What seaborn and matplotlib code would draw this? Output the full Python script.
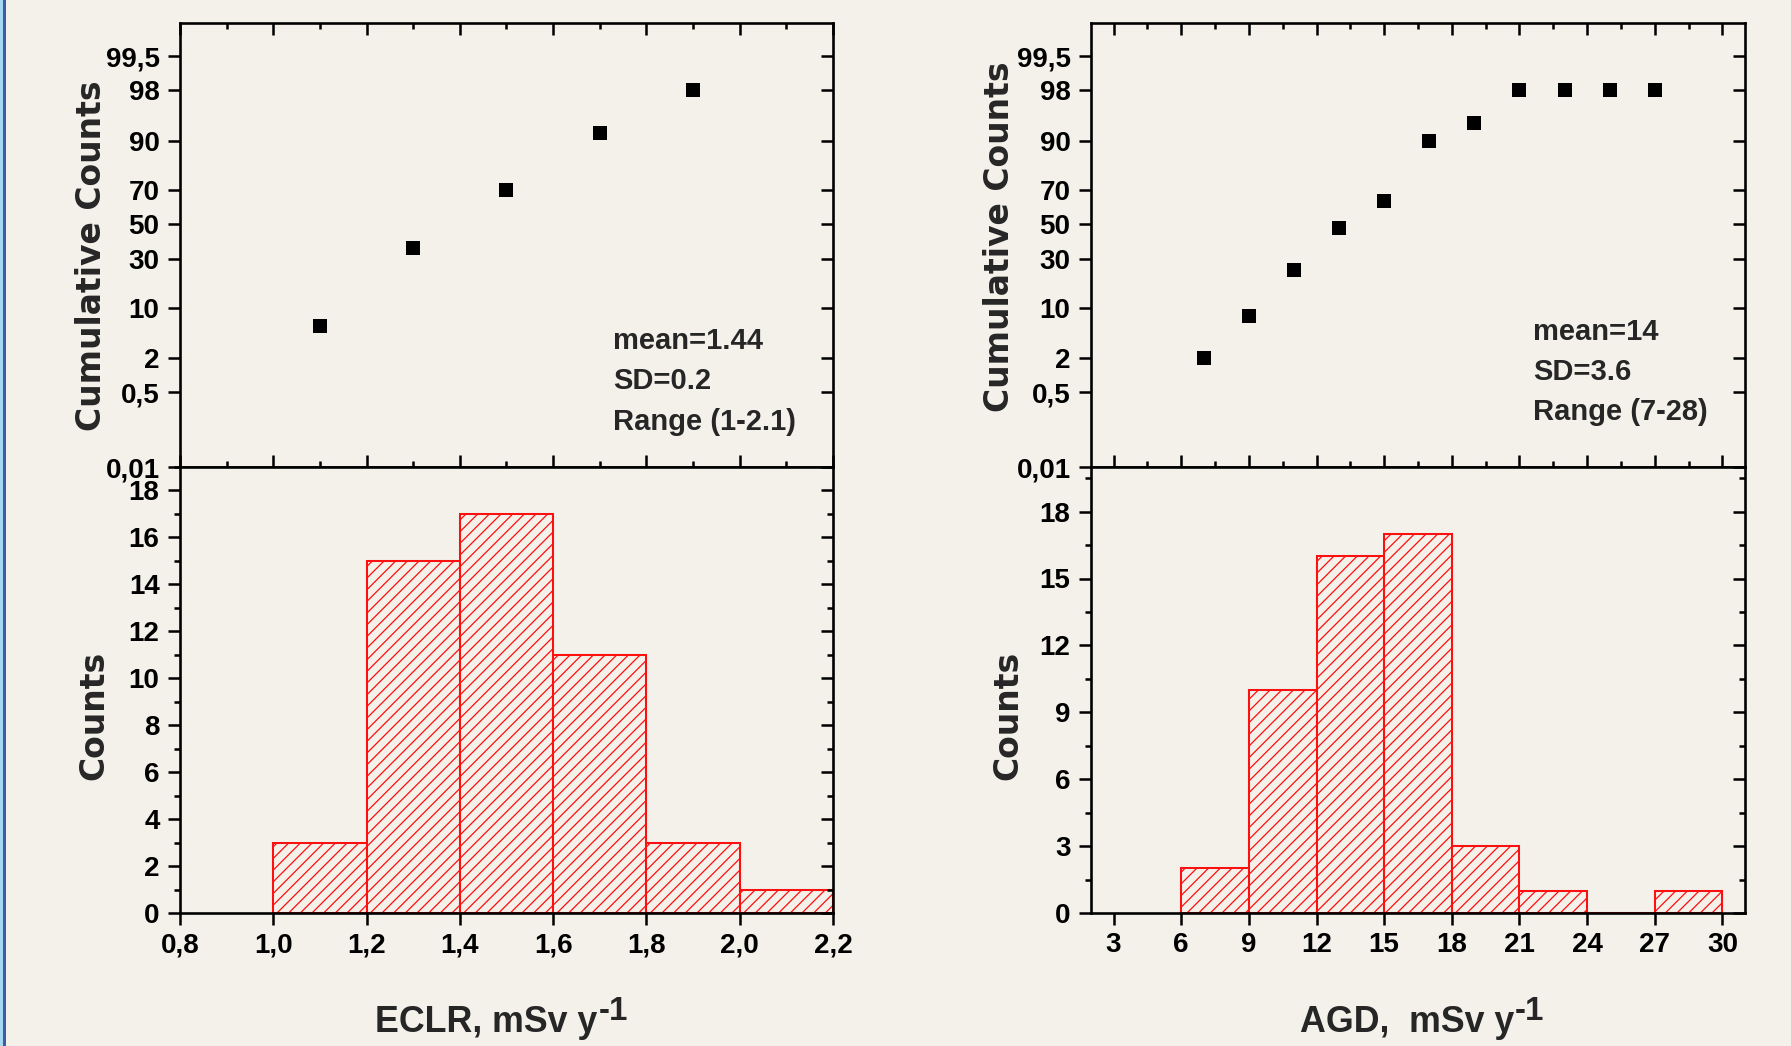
import numpy as np
import matplotlib
matplotlib.use("Agg")
import matplotlib.pyplot as plt
import seaborn as sns
import pandas as pd
from statistics import NormalDist
from matplotlib.ticker import (FixedLocator, MultipleLocator, FuncFormatter,
                               NullLocator, NullFormatter, FixedFormatter)
from matplotlib.patches import Rectangle

# ---------------- data ----------------
eclr_edges = [1.0, 1.2, 1.4, 1.6, 1.8, 2.0, 2.2]
eclr_counts = [3, 15, 17, 11, 3, 1]
eclr_cum_x = [1.1, 1.3, 1.5, 1.7, 1.9]
eclr_cum_pct = [6, 36, 70, 92, 98]
eclr_stats = ["mean=1.44", "SD=0.2", "Range (1-2.1)"]

agd_edges = [6, 9, 12, 15, 18, 21, 24, 27, 30]
agd_counts = [2, 10, 16, 17, 3, 1, 0, 1]
agd_cum_x = [7, 9, 11, 13, 15, 17, 19, 21, 23, 25, 27]
agd_cum_pct = [2, 8, 24, 48, 64, 90, 94, 98, 98, 98, 98]
agd_stats = ["mean=14", "SD=3.6", "Range (7-28)"]

prob_ticks = [0.01, 0.5, 2, 10, 30, 50, 70, 90, 98, 99.5]
prob_labels = ["0,01", "0,5", "2", "10", "30", "50", "70", "90", "98", "99,5"]

# ---------------- style ----------------
BG = "#F3F1EA"
RED = "#FF1010"
DPI = 140
W_PX, H_PX = 1791, 1046

sns.set_style("ticks")
plt.rcParams.update({
    "font.family": ["Liberation Sans", "DejaVu Sans"],
    "font.weight": "bold",
    "axes.labelweight": "bold",
    "hatch.linewidth": 0.65,
    "hatch.color": RED,
    "axes.facecolor": BG,
    "figure.facecolor": BG,
    "savefig.facecolor": BG,
    "axes.edgecolor": "black",
    "axes.linewidth": 1.35,
    "xtick.color": "black",
    "ytick.color": "black",
    "axes.grid": False,
})

_nd = NormalDist()
_ppf = np.vectorize(_nd.inv_cdf, otypes=[float])
_cdf = np.vectorize(_nd.cdf, otypes=[float])


def prob_fwd(p):
    p = np.clip(np.asarray(p, dtype=float) / 100.0, 1e-12, 1 - 1e-12)
    return _ppf(p)


def prob_inv(z):
    return _cdf(np.asarray(z, dtype=float)) * 100.0


PROB_TOP = 99.898
TICK_FS = 14.3
MAJ_LEN, MIN_LEN, TW = 6.0, 3.0, 1.3

fig = plt.figure(figsize=(W_PX / DPI, H_PX / DPI), dpi=DPI)

# left decorative border
fig.patches.append(Rectangle((0, 0), 3 / W_PX, 1, transform=fig.transFigure,
                             facecolor="#A6D8F2", edgecolor="none", zorder=0))
fig.patches.append(Rectangle((3 / W_PX, 0), 3 / W_PX, 1, transform=fig.transFigure,
                             facecolor="#3A5DA5", edgecolor="none", zorder=0))

TOP_Y0, MID_Y, BOT_Y1 = 23, 467, 913


def fy(px):
    return 1 - px / H_PX


def make_panel(x0, x1, edges, counts, cum_x, cum_pct, xlim, xmaj, xmin, xfmt,
               ymax, ymaj, ymin, xlabel, xlabel_x, stats, stats_x, stats_y,
               lab_top, lab_bot):
    left = x0 / W_PX
    width = (x1 - x0) / W_PX
    ax_t = fig.add_axes([left, fy(MID_Y), width, (MID_Y - TOP_Y0) / H_PX])
    ax_b = fig.add_axes([left, fy(BOT_Y1), width, (BOT_Y1 - MID_Y) / H_PX])

    # ---- histogram (bottom) ----
    centers = [(a + b) / 2 for a, b in zip(edges[:-1], edges[1:])]
    df = pd.DataFrame({"x": centers, "w": counts})
    sns.histplot(data=df, x="x", weights="w", bins=edges, ax=ax_b,
                 stat="count", element="bars", fill=True, color=RED)
    for p in ax_b.patches:
        p.set_alpha(None)
        p.set_facecolor(BG)
        p.set_edgecolor(RED)
        p.set_hatch("////")
        p.set_linewidth(1.05)
    ax_b.set_xlim(*xlim)
    ax_b.set_ylim(0, ymax)
    ax_b.xaxis.set_major_locator(MultipleLocator(xmaj))
    ax_b.xaxis.set_minor_locator(NullLocator())
    ax_b.xaxis.set_major_formatter(FuncFormatter(xfmt))
    ax_b.yaxis.set_major_locator(MultipleLocator(ymaj))
    ax_b.yaxis.set_minor_locator(MultipleLocator(ymin))
    ax_b.tick_params(axis="x", which="both", direction="out", bottom=True, top=False,
                     length=MAJ_LEN, width=TW, labelsize=TICK_FS, pad=4)
    ax_b.tick_params(axis="y", which="major", direction="out", left=True, right=False,
                     length=MAJ_LEN, width=TW, labelsize=TICK_FS, pad=4.5)
    ax_b.tick_params(axis="y", which="minor", direction="out", left=True, right=False,
                     length=MIN_LEN, width=TW)
    for s in ax_b.spines.values():
        s.set_visible(True)
        s.set_linewidth(1.35)
    tw_b = ax_b.twinx()
    tw_b.set_ylim(0, ymax)
    tw_b.yaxis.set_major_locator(MultipleLocator(ymaj))
    tw_b.yaxis.set_minor_locator(MultipleLocator(ymin))
    tw_b.tick_params(axis="y", which="major", direction="in", right=True, left=False,
                     labelright=False, length=MAJ_LEN, width=TW)
    tw_b.tick_params(axis="y", which="minor", direction="in", right=True, left=False,
                     labelright=False, length=MIN_LEN, width=TW)
    for s in tw_b.spines.values():
        s.set_visible(False)

    ax_b.set_xlabel(xlabel, fontsize=18.4, fontweight="bold")
    ax_b.xaxis.set_label_coords(xlabel_x, -0.266)
    ax_b.xaxis.label.set_va("baseline")
    ax_b.annotate("-1", xy=(1.0, 0.0), xycoords=ax_b.xaxis.label,
                  xytext=(0.5, 10), textcoords="offset points",
                  fontsize=17, fontweight="bold", ha="left", va="baseline")
    ax_b.set_ylabel("Counts", fontsize=17, fontweight="bold", fontfamily="DejaVu Sans")
    ax_b.yaxis.set_label_coords(lab_bot[0], lab_bot[1])

    # ---- cumulative probability (top) ----
    ax_t.set_yscale("function", functions=(prob_fwd, prob_inv))
    sns.scatterplot(x=cum_x, y=cum_pct, ax=ax_t, marker="s", s=50,
                    color="black", edgecolor="black", linewidth=0, zorder=3)
    ax_t.set_xlim(*xlim)
    ax_t.set_ylim(0.01, PROB_TOP)
    ax_t.xaxis.set_major_locator(MultipleLocator(xmaj))
    ax_t.xaxis.set_minor_locator(MultipleLocator(xmin))
    ax_t.xaxis.set_major_formatter(NullFormatter())
    ax_t.yaxis.set_major_locator(FixedLocator(prob_ticks))
    ax_t.yaxis.set_major_formatter(FixedFormatter(prob_labels))
    ax_t.yaxis.set_minor_locator(NullLocator())
    ax_t.tick_params(axis="x", which="major", direction="in", top=True, bottom=True,
                     labelbottom=False, length=MAJ_LEN, width=TW)
    ax_t.tick_params(axis="x", which="minor", direction="in", top=True, bottom=True,
                     length=MIN_LEN, width=TW)
    ax_t.tick_params(axis="y", which="major", direction="out", left=True, right=False,
                     length=MAJ_LEN, width=TW, labelsize=TICK_FS, pad=4.5)
    for s in ax_t.spines.values():
        s.set_visible(True)
        s.set_linewidth(1.35)
    tw_t = ax_t.twinx()
    tw_t.set_yscale("function", functions=(prob_fwd, prob_inv))
    tw_t.set_ylim(0.01, PROB_TOP)
    tw_t.yaxis.set_major_locator(FixedLocator(prob_ticks))
    tw_t.yaxis.set_minor_locator(NullLocator())
    tw_t.tick_params(axis="y", which="major", direction="in", right=True, left=False,
                     labelright=False, length=MAJ_LEN, width=TW)
    for s in tw_t.spines.values():
        s.set_visible(False)
    ax_t.set_xlabel("")
    ax_t.set_ylabel("Cumulative Counts", fontsize=17, fontweight="bold",
                    fontfamily="DejaVu Sans")
    ax_t.yaxis.set_label_coords(lab_top[0], lab_top[1])

    for s, yy in zip(stats, stats_y):
        ax_t.text(stats_x, yy, s, transform=ax_t.transAxes, fontsize=15,
                  fontweight="bold", va="baseline", ha="left")
    return ax_t, ax_b


def fmt_comma(v, pos):
    return f"{v:.1f}".replace(".", ",")


def fmt_int(v, pos):
    return f"{v:.0f}"


make_panel(180, 833, eclr_edges, eclr_counts, eclr_cum_x, eclr_cum_pct,
           (0.8, 2.2), 0.2, 0.1, fmt_comma, 19, 2, 1,
           "ECLR, mSv y", 0.469, eclr_stats, 0.663, [0.266, 0.176, 0.083],
           (-0.110, 0.477), (-0.106, 0.443))

make_panel(1091, 1745, agd_edges, agd_counts, agd_cum_x, agd_cum_pct,
           (2, 31), 3, 1.5, fmt_int, 20, 3, 1.5,
           "AGD,  mSv y", 0.483, agd_stats, 0.676, [0.286, 0.196, 0.106],
           (-0.114, 0.518), (-0.102, 0.443))

fig.savefig("out.png", dpi=DPI)
